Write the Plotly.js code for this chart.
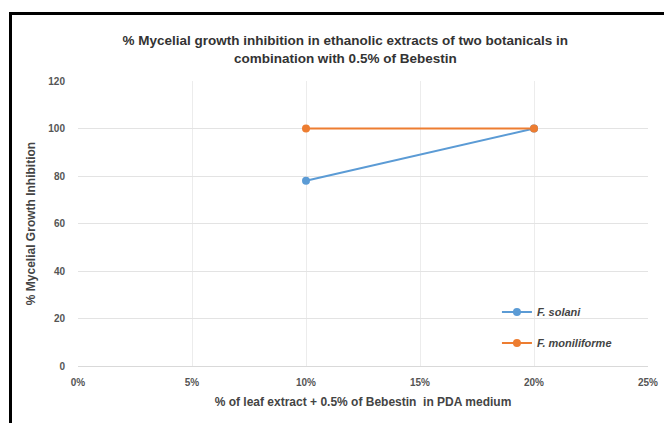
<!DOCTYPE html>
<html><head><meta charset="utf-8">
<script src="https://cdn.plot.ly/plotly-3.0.1.min.js"></script>
<style>
html,body{margin:0;padding:0;background:#fff;}
#wrap{position:absolute;left:0;top:0;width:664px;height:423px;}
#frame{position:absolute;left:9px;top:12px;width:660px;height:420px;border-top:3px solid #000;border-left:3px solid #000;pointer-events:none;}
#chart{position:absolute;left:0;top:0;width:664px;height:423px;}
</style></head>
<body><div id="wrap"><div id="chart"></div><div id="frame"></div></div>
<script>
const xValues = [0.10, 0.20];
const solani = [78, 100];
const moniliforme = [100, 100];
const seriesNames = ['<b><i>F. solani</i></b>', '<b><i>F. moniliforme</i></b>'];
const xTicks = [0, 0.05, 0.10, 0.15, 0.20, 0.25];
const xTickText = ['0%', '5%', '10%', '15%', '20%', '25%'];
const yTicks = [0, 20, 40, 60, 80, 100, 120];

const F = '"Liberation Sans", Arial, sans-serif';
const traces = [
  {x: xValues, y: solani, name: seriesNames[0], mode: 'lines+markers', legendgroup: 'a',
   line: {color: '#5b9bd5', width: 2}, marker: {color: '#5b9bd5', size: 8}},
  {x: xValues, y: moniliforme, name: seriesNames[1], mode: 'lines+markers', legendgroup: 'b',
   line: {color: '#ed7d31', width: 2}, marker: {color: '#ed7d31', size: 8}}
];
const layout = {
  width: 664, height: 423,
  margin: {l: 78, r: 16, t: 81, b: 57},
  paper_bgcolor: '#fff', plot_bgcolor: '#fff',
  font: {family: F, color: '#444', size: 10},
  title: {text: '<b>% Mycelial growth inhibition in ethanolic extracts of two botanicals in<br>combination with 0.5% of Bebestin</b>',
    font: {family: F, size: 13.5, color: '#333'}, x: 0.52, xanchor: 'center', y: 0.893, yanchor: 'middle'},
  xaxis: {range: [0, 0.25], tickvals: xTicks, ticktext: xTickText, showgrid: true, gridcolor: '#ececec',
    zeroline: false, showline: true, linecolor: '#d9d9d9', ticks: 'outside', ticklen: 7, tickcolor: 'rgba(0,0,0,0)',
    tickfont: {family: F, size: 10, color: '#555', weight: 'bold'},
    title: {text: '<b>% of leaf extract + 0.5% of Bebestin  in PDA medium</b>', font: {family: F, size: 12, color: '#444'}, standoff: 10}},
  yaxis: {range: [0, 120], tickvals: yTicks, showgrid: true, gridcolor: '#e3e3e3', zeroline: false,
    showline: false, ticks: 'outside', ticklen: 10, tickcolor: 'rgba(0,0,0,0)',
    tickfont: {family: F, size: 10, color: '#555', weight: 'bold'},
    title: {text: '<b>% Mycelial Growth Inhibition</b>', font: {family: F, size: 12, color: '#444'}, standoff: 10}},
  legend: {x: 0.735, y: 0.24, xanchor: 'left', yanchor: 'top', bgcolor: 'rgba(0,0,0,0)',
    font: {family: F, size: 11, color: '#444'}, tracegroupgap: 12},
  showlegend: true
};
Plotly.newPlot('chart', traces, layout, {displayModeBar: false, staticPlot: true});
</script></body></html>
